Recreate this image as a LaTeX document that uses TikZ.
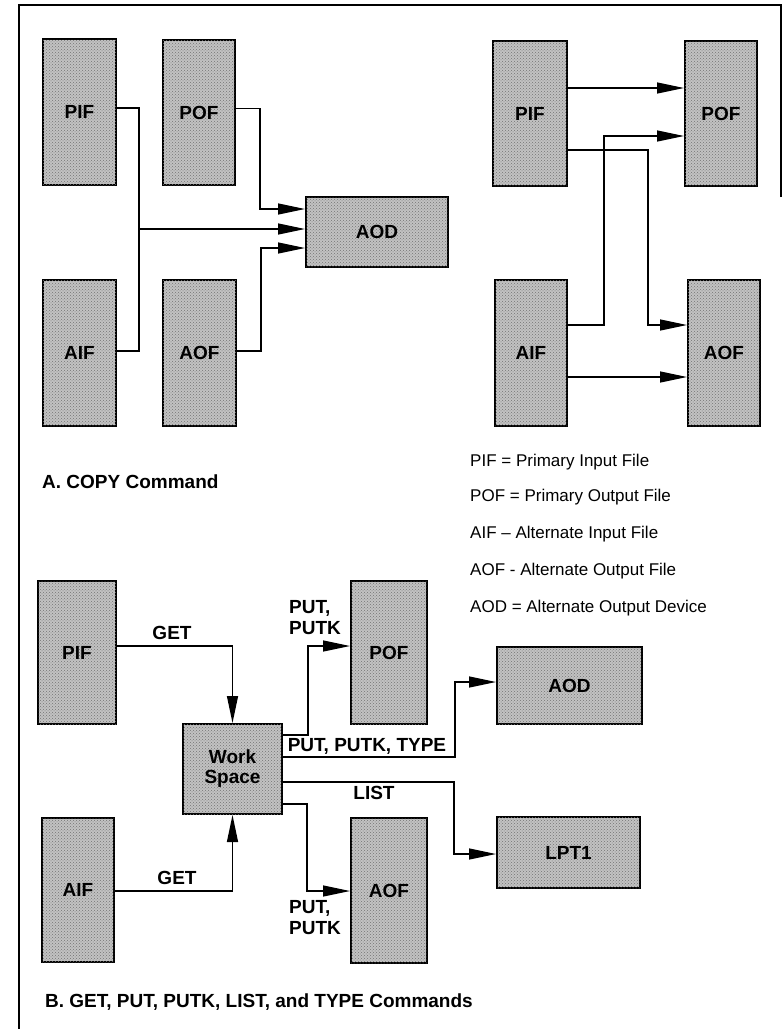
\documentclass[tikz,border=0pt]{standalone}
\usepackage{fontspec}
\setmainfont{Liberation Sans}
\usetikzlibrary{arrows.meta,patterns}
\newcommand\myBoxFont{\fontsize{19pt}{21pt}\selectfont\bfseries}
\newcommand\myCapFont{\fontsize{19pt}{21pt}\selectfont\bfseries}
\newcommand\myLegFont{\fontsize{17pt}{19pt}\selectfont}
\tikzset{
  filebox/.style={draw, line width=2pt, fill=black!24, inner sep=0pt,
    postaction={pattern=crosshatch dots, pattern color=black!55},
    font=\myBoxFont, align=center},
  conn/.style={line width=1.3pt},
  arrconn/.style={conn, -{Triangle[length=27pt,width=11pt]}},
  lbltext/.style={font=\myBoxFont, inner sep=0pt, align=left},
  captext/.style={font=\myCapFont, inner sep=0pt, anchor=west},
  legtext/.style={font=\myLegFont, inner sep=0pt, anchor=west},
  frameline/.style={line width=2pt}
}
\begin{document}
\begin{tikzpicture}[x=1pt, y=-1pt]
\useasboundingbox (0,0) rectangle (783,1029);
% frame
\coordinate (f1) at (781,197);
\coordinate (f2) at (781,5);
\coordinate (f3) at (19,5);
\coordinate (f4) at (19,1029);
\draw[frameline] (f1) -- (f2) -- (f3) -- (f4);

% ---------- A: top-left ----------
\node[filebox, minimum width=73pt, minimum height=146pt] (tPIF) at (79.5,112) {PIF};
\node[filebox, minimum width=72pt, minimum height=145pt] (tPOF) at (199,112.5) {POF};
\node[filebox, minimum width=73pt, minimum height=146pt] (tAIF) at (79.5,353) {AIF};
\node[filebox, minimum width=73pt, minimum height=146pt] (tAOF) at (199.5,353) {AOF};
\node[filebox, minimum width=142pt, minimum height=70pt] (tAOD) at (377,232) {AOD};

\coordinate (j1) at ([yshift=3pt]tAOD.west);
\draw[conn] ([yshift=4pt]tPIF.east) -- ++(22,0) |- ([yshift=2pt]tAIF.east);
\draw[arrconn] ([xshift=22pt]tPIF.east |- j1) -- (j1);
\draw[arrconn] ([yshift=4pt]tPOF.east) -- ++(24,0) |- ([yshift=23pt]tAOD.west);
\draw[arrconn] ([yshift=2pt]tAOF.east) -- ++(24,0) |- ([yshift=-16pt]tAOD.west);

% ---------- A: top-right ----------
\node[filebox, minimum width=74pt, minimum height=145pt] (rPIF) at (530,113.5) {PIF};
\node[filebox, minimum width=72pt, minimum height=145pt] (rPOF) at (721,113.5) {POF};
\node[filebox, minimum width=72pt, minimum height=146pt] (rAIF) at (531,353) {AIF};
\node[filebox, minimum width=72pt, minimum height=146pt] (rAOF) at (724,353) {AOF};

\draw[arrconn] ([yshift=25.5pt]rPIF.east) -- ([yshift=25.5pt]rPOF.west);
\draw[arrconn] ([yshift=28pt]rAIF.east) -- ++(36,0) |- ([yshift=-22.5pt]rPOF.west);
\draw[arrconn] ([yshift=-36.5pt]rPIF.east) -- ++(80,0) |- ([yshift=28pt]rAOF.west);
\draw[arrconn] ([yshift=-24pt]rAIF.east) -- ([yshift=-24pt]rAOF.west);

% captions and legend
\node[captext] (capA) at (42,482) {A. COPY Command};
\node[legtext] (l1) at (470,462) {PIF = Primary Input File};
\node[legtext] (l2) at (470,497) {POF = Primary Output File};
\node[legtext] (l3) at (470,534) {AIF – Alternate Input File};
\node[legtext] (l4) at (470,571) {AOF - Alternate Output File};
\node[legtext] (l5) at (470,608) {AOD = Alternate Output Device};

% ---------- B ----------
\node[filebox, minimum width=78pt, minimum height=143pt] (bPIF) at (77,652.5) {PIF};
\node[filebox, minimum width=72pt, minimum height=144pt] (bAIF) at (78,890) {AIF};
\node[filebox, minimum width=99pt, minimum height=90pt] (bWS) at (232.5,769) {Work\\[-1pt]Space};
\node[filebox, minimum width=76pt, minimum height=143pt] (bPOF) at (389,652.5) {POF};
\node[filebox, minimum width=145pt, minimum height=77pt] (bAOD) at (569.5,685.5) {AOD};
\node[filebox, minimum width=76pt, minimum height=145pt] (bAOF) at (389,890.5) {AOF};
\node[filebox, minimum width=143pt, minimum height=71pt] (bLPT) at (568.5,852.5) {LPT1};

\draw[arrconn] ([yshift=6.5pt]bPIF.east) -| (bWS.north);
\draw[arrconn] ([yshift=-1pt]bAIF.east) -| (bWS.south);
\draw[arrconn] ([yshift=34pt]bWS.east) -- ++(25,0) |- ([yshift=6.5pt]bPOF.west);
\draw[arrconn] ([yshift=12pt]bWS.east) -- ++(172,0) |- ([yshift=3.5pt]bAOD.west);
\draw[arrconn] ([yshift=-13pt]bWS.east) -- ++(171,0) |- ([yshift=-1.5pt]bLPT.west);
\draw[arrconn] ([yshift=-35pt]bWS.east) -- ++(24,0) |- ([yshift=-0.5pt]bAOF.west);

\node[lbltext] (gt1) at (172,633) {GET};
\node[lbltext] (gt2) at (177,878) {GET};
\node[lbltext, anchor=west] (pp1) at (289,618) {PUT,\\PUTK};
\node[lbltext] (ppt) at (367,746) {PUT, PUTK, TYPE};
\node[lbltext] (lst) at (374,793) {LIST};
\node[lbltext, anchor=west] (pp2) at (289,918) {PUT,\\PUTK};

\node[captext] (capB) at (45,1002) {B. GET, PUT, PUTK, LIST, and TYPE Commands};
\end{tikzpicture}
\end{document}
